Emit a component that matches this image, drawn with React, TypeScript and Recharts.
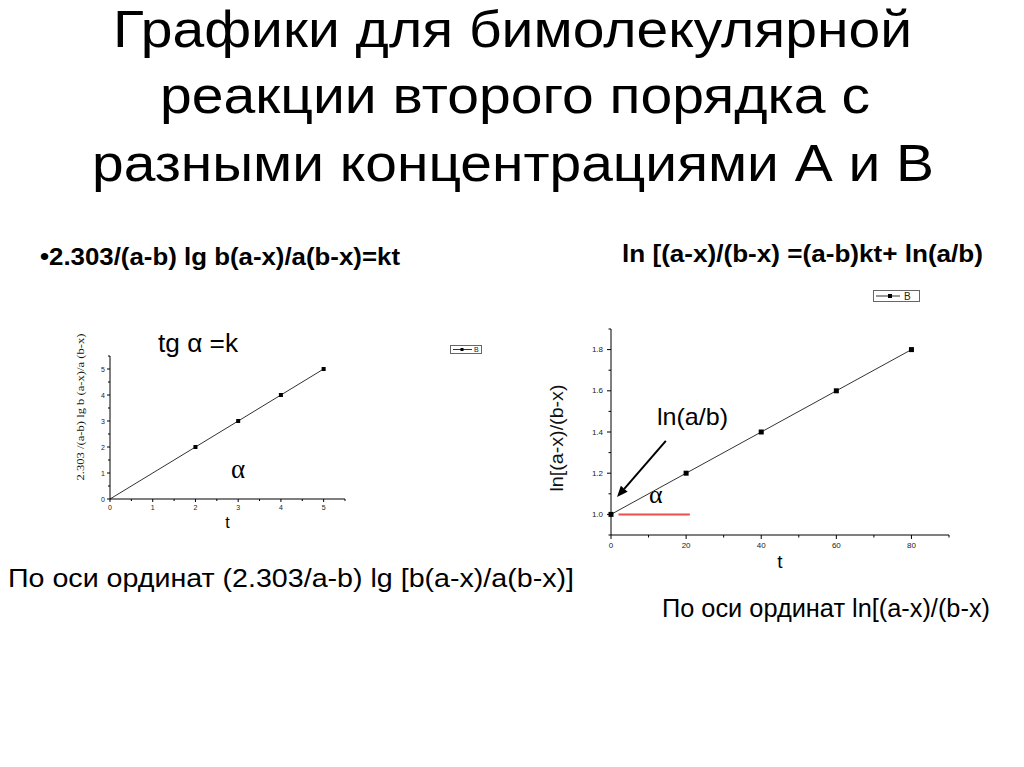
import React from 'react';
import { LineChart, Line, XAxis, YAxis, Legend, ReferenceLine } from 'recharts';

// ---------- data ----------
const leftT = [0, 2, 3, 4, 5];
const leftValues = [0, 2, 3, 4, 5];
const leftXTicks = [0, 0.5, 1, 1.5, 2, 2.5, 3, 3.5, 4, 4.5, 5, 5.5];
const leftYTicks = [0, 0.5, 1, 1.5, 2, 2.5, 3, 3.5, 4, 4.5, 5, 5.5];
const leftMajor = [0, 1, 2, 3, 4, 5];

const rightT = [0, 20, 40, 60, 80];
const rightValues = [1.0, 1.2, 1.4, 1.6, 1.8];
const rightXTicks = [0, 10, 20, 30, 40, 50, 60, 70, 80, 90];
const rightXMajor = [0, 20, 40, 60, 80];
const rightYTicks = [0.9, 1.0, 1.1, 1.2, 1.3, 1.4, 1.5, 1.6, 1.7, 1.8, 1.9];
const rightYMajor = [1.0, 1.2, 1.4, 1.6, 1.8];

const redSegment = [{ x: 2, y: 1.0 }, { x: 21, y: 1.0 }];
const arrowSegment = [{ x: 14.6, y: 1.357 }, { x: 1.6, y: 1.084 }];

const titleLines = [
  'Графики для бимолекулярной',
  'реакции второго порядка с',
  'разными концентрациями А и В',
];

const leftData = leftT.map((t, i) => ({ t, v: leftValues[i] }));
const rightData = rightT.map((t, i) => ({ t, v: rightValues[i] }));

const SANS = '"Liberation Sans", Arial, sans-serif';
const SERIF = '"Liberation Serif", "Times New Roman", serif';

const isIn = (arr: number[], v: number) => arr.some((a) => Math.abs(a - v) < 1e-6);

const makeXTick = (major: number[], fmt: (v: number) => string, len: number, minorLen: number, fs: number, gap: number) =>
  (props: any) => {
    const { x, y, payload } = props;
    const v = payload.value;
    const m = isIn(major, v);
    return (
      <g>
        <line x1={x} y1={y} x2={x} y2={y + (m ? len : minorLen)} stroke="#000" strokeWidth={1} />
        {m && (
          <text x={x} y={y + gap} textAnchor="middle" dominantBaseline="central" fontSize={fs} fill="#222" fontFamily={SANS}>
            {fmt(v)}
          </text>
        )}
      </g>
    );
  };

const makeYTick = (major: number[], fmt: (v: number) => string, len: number, minorLen: number, fs: number, gap: number) =>
  (props: any) => {
    const { x, y, payload } = props;
    const v = payload.value;
    const m = isIn(major, v);
    return (
      <g>
        <line x1={x} y1={y} x2={x - (m ? len : minorLen)} y2={y} stroke="#000" strokeWidth={1} />
        {m && (
          <text x={x - gap} y={y} textAnchor="end" dominantBaseline="central" fontSize={fs} fill="#222" fontFamily={SANS}>
            {fmt(v)}
          </text>
        )}
      </g>
    );
  };

const squareDot = (size: number, skipFirst: boolean) => (p: any) => {
  const { cx, cy, index } = p;
  if (skipFirst && index === 0) return <g key={`d${index}`} />;
  return <rect key={`d${index}`} x={cx - size / 2} y={cy - size / 2} width={size} height={size} fill="#000" />;
};

const legendBox = (w: number, h: number, fs: number, lineEnd: number, mk: number, mSize: number, tx: number) => (props: any) => {
  const name = props.payload && props.payload[0] ? props.payload[0].value : 'B';
  return (
    <svg width={w} height={h} style={{ display: 'block' }}>
      <rect x={0.5} y={0.5} width={w - 1} height={h - 1} fill="#fff" stroke="#666" strokeWidth={1} />
      <line x1={3} y1={h / 2} x2={lineEnd} y2={h / 2} stroke="#333" strokeWidth={1} />
      <rect x={mk - mSize / 2} y={h / 2 - mSize / 2} width={mSize} height={mSize} fill="#000" />
      <text x={tx} y={h / 2} dominantBaseline="central" fontSize={fs} fontFamily={SANS} fill="#222">{name}</text>
    </svg>
  );
};

const ArrowShape = (props: any) => {
  const { x1, y1, x2, y2 } = props;
  const ang = Math.atan2(y2 - y1, x2 - x1);
  const L = 11;
  const W = 4.5;
  const bx = x2 - L * Math.cos(ang);
  const by = y2 - L * Math.sin(ang);
  const px = -Math.sin(ang) * W;
  const py = Math.cos(ang) * W;
  return (
    <g>
      <line x1={x1} y1={y1} x2={bx} y2={by} stroke="#000" strokeWidth={2} />
      <polygon points={`${x2},${y2} ${bx + px},${by + py} ${bx - px},${by - py}`} fill="#000" />
    </g>
  );
};

export default function App() {
  return (
    <div style={{ position: 'absolute', left: 0, top: 0, width: 1024, height: 767, background: '#fff', overflow: 'hidden' }}>
      <svg width={1024} height={767} style={{ position: 'absolute', left: 0, top: 0 }}>
        {/* title */}
        <text x={113} y={47} fontSize={52} fontFamily={SANS} fill="#000" textLength={799} lengthAdjust="spacingAndGlyphs">{titleLines[0]}</text>
        <text x={160} y={113} fontSize={52} fontFamily={SANS} fill="#000" textLength={710} lengthAdjust="spacingAndGlyphs">{titleLines[1]}</text>
        <text x={92} y={181} fontSize={52} fontFamily={SANS} fill="#000" textLength={842} lengthAdjust="spacingAndGlyphs">{titleLines[2]}</text>

        {/* formulas */}
        <text x={40} y={265} fontSize={23} fontWeight="bold" fontFamily={SANS} fill="#000" textLength={360} lengthAdjust="spacingAndGlyphs">•2.303/(a-b) lg b(a-x)/a(b-x)=kt</text>
        <text x={622} y={262} fontSize={23} fontWeight="bold" fontFamily={SANS} fill="#000" textLength={361} lengthAdjust="spacingAndGlyphs">ln [(a-x)/(b-x) =(a-b)kt+ ln(a/b)</text>

        {/* left chart annotations */}
        <text x={158} y={352} fontSize={26} fontFamily={SANS} fill="#000" textLength={80} lengthAdjust="spacingAndGlyphs">tg α =k</text>
        <text x={231} y={478} fontSize={27} fontFamily={SERIF} fill="#000">α</text>
        <text x={80} y={407} transform="rotate(-90 80 407)" textAnchor="middle" dominantBaseline="central" fontSize={11} fontFamily={SERIF} fill="#111" textLength={147} lengthAdjust="spacingAndGlyphs">2.303 /(a-b) lg b (a-x)/a (b-x)</text>

        {/* right chart annotations */}
        <text x={657} y={425} fontSize={24} fontFamily={SANS} fill="#000" textLength={71} lengthAdjust="spacingAndGlyphs">ln(a/b)</text>
        <text x={649} y={503} fontSize={26} fontFamily={SERIF} fill="#000">α</text>
        <text x={556} y={438} transform="rotate(-90 556 438)" textAnchor="middle" dominantBaseline="central" fontSize={19} fontFamily={SANS} fill="#111" textLength={107} lengthAdjust="spacingAndGlyphs">ln[(a-x)/(b-x)</text>

        {/* bottom captions */}
        <text x={8} y={587} fontSize={25} fontFamily={SANS} fill="#000" textLength={566} lengthAdjust="spacingAndGlyphs">По оси ординат (2.303/a-b) lg [b(a-x)/a(b-x)]</text>
        <text x={662} y={617} fontSize={25} fontFamily={SANS} fill="#000" textLength={328} lengthAdjust="spacingAndGlyphs">По оси ординат ln[(a-x)/(b-x)</text>
      </svg>

      {/* left chart */}
      <div style={{ position: 'absolute', left: 60, top: 320 }}>
        <LineChart width={440} height={230} data={leftData} margin={{ top: 36, right: 155, left: 0, bottom: 0 }}>
          <XAxis
            dataKey="t"
            type="number"
            domain={[0, 5.5]}
            ticks={leftXTicks}
            interval={0}
            height={51}
            tickSize={0}
            tickMargin={0}
            tickLine={false}
            axisLine={{ stroke: '#000', strokeWidth: 1 }}
            tick={makeXTick(leftMajor, (v) => String(v), 3, 2, 7, 8)}
            label={{ value: 't', position: 'insideBottom', offset: 22, fontSize: 16, fontFamily: SANS, fill: '#000' }}
          />
          <YAxis
            type="number"
            domain={[0, 5.5]}
            ticks={leftYTicks}
            interval={0}
            width={50}
            tickSize={0}
            tickMargin={0}
            tickLine={false}
            axisLine={{ stroke: '#000', strokeWidth: 1 }}
            tick={makeYTick(leftMajor, (v) => String(v), 3, 2, 7, 5)}
          />
          <Legend
            layout="horizontal"
            verticalAlign="middle"
            align="center"
            wrapperStyle={{ position: 'absolute', left: 390, top: 25, width: 32, height: 9 }}
            content={legendBox(32, 9, 7, 22, 12, 3, 24)}
          />
          <Line
            type="linear"
            dataKey="v"
            name="B"
            stroke="#333"
            strokeWidth={1}
            dot={squareDot(4, true)}
            activeDot={false}
            isAnimationActive={false}
          />
        </LineChart>
      </div>

      {/* right chart */}
      <div style={{ position: 'absolute', left: 530, top: 280 }}>
        <LineChart width={440} height={300} data={rightData} margin={{ top: 49, right: 21, left: 0, bottom: 0 }}>
          <XAxis
            dataKey="t"
            type="number"
            domain={[0, 90]}
            ticks={rightXTicks}
            interval={0}
            height={45}
            tickSize={0}
            tickMargin={0}
            tickLine={false}
            axisLine={{ stroke: '#000', strokeWidth: 1 }}
            tick={makeXTick(rightXMajor, (v) => String(v), 4, 2.5, 8, 10)}
            label={{ value: 't', position: 'insideBottom', offset: 12, fontSize: 19, fontFamily: SANS, fill: '#000' }}
          />
          <YAxis
            type="number"
            domain={[0.9, 1.9]}
            ticks={rightYTicks}
            interval={0}
            width={81}
            tickSize={0}
            tickMargin={0}
            tickLine={false}
            axisLine={{ stroke: '#000', strokeWidth: 1 }}
            tick={makeYTick(rightYMajor, (v) => v.toFixed(1), 4, 2.5, 8, 8)}
          />
          <Legend
            layout="horizontal"
            verticalAlign="middle"
            align="center"
            wrapperStyle={{ position: 'absolute', left: 343, top: 10, width: 47, height: 12 }}
            content={legendBox(47, 12, 10, 27, 17, 4, 31)}
          />
          <ReferenceLine segment={redSegment} stroke="#e8504a" strokeWidth={2} ifOverflow="extendDomain" />
          <ReferenceLine segment={arrowSegment} shape={ArrowShape} ifOverflow="extendDomain" />
          <Line
            type="linear"
            dataKey="v"
            name="B"
            stroke="#333"
            strokeWidth={1}
            dot={squareDot(5, false)}
            activeDot={false}
            isAnimationActive={false}
          />
        </LineChart>
      </div>
    </div>
  );
}
